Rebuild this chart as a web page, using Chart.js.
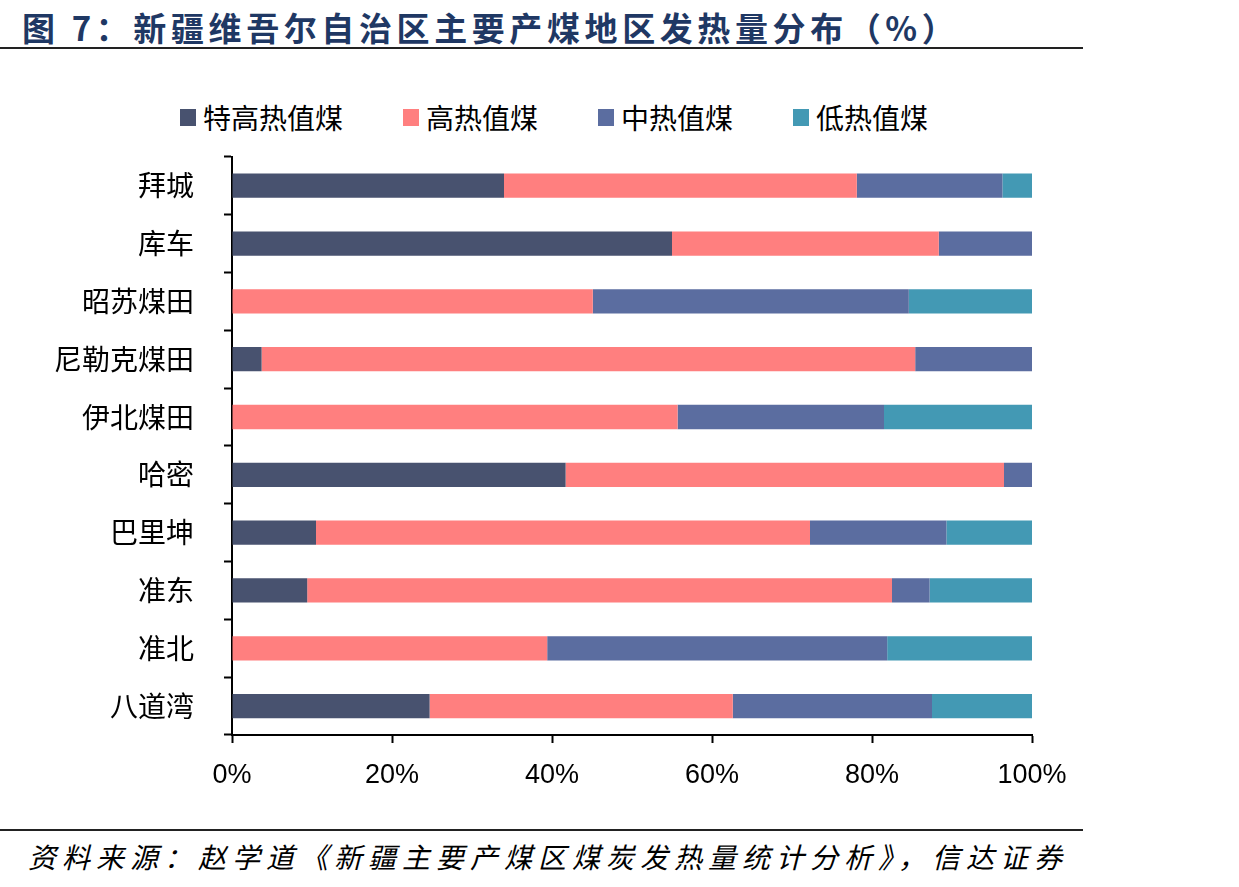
<!DOCTYPE html>
<html>
<head>
<meta charset="utf-8">
<script src="https://cdn.jsdelivr.net/npm/chart.js@4"></script>
<style>
  body { margin: 0; width: 1239px; height: 887px; overflow: hidden; background: #fff; position: relative;
         font-family: "Liberation Sans", "Noto Sans CJK SC", sans-serif; }
  #title { position: absolute; left: 22px; top: 3px; font-family: "Noto Sans CJK SC", sans-serif; font-weight: bold;
           font-size: 33px; letter-spacing: 4.6px; color: #1F3864; white-space: nowrap; }
  #topLine { position: absolute; left: 0; top: 47px; width: 1083px; height: 2px; background: #222; }
  #legend { position: absolute; left: 180px; top: 97px; display: flex; font-family: "Noto Sans CJK SC", sans-serif;
            font-size: 28px; color: #000; }
  .item { display: flex; align-items: center; margin-right: 60px; }
  .box { width: 16px; height: 17px; margin-right: 7px; }
  #wrap { position: absolute; left: 0; top: 110px; width: 1100px; height: 685px; }
  #bottomLine { position: absolute; left: 0; top: 829px; width: 1083px; height: 2px; background: #222; }
  #source { position: absolute; left: 28px; top: 834px; font-family: "Noto Sans CJK SC", sans-serif; font-size: 28px;
            font-style: italic; letter-spacing: 6px; line-height: 44px; color: #000; white-space: nowrap; }
</style>
</head>
<body>
<div id="title">图 7：新疆维吾尔自治区主要产煤地区发热量分布（%）</div>
<div id="topLine"></div>
<div id="legend"></div>
<div id="wrap"><canvas id="heatChart"></canvas></div>
<div id="bottomLine"></div>
<div id="source">资料来源：赵学道《新疆主要产煤区煤炭发热量统计分析》，信达证券<br>研发中心</div>
<script>
const regions = ['拜城', '库车', '昭苏煤田', '尼勒克煤田', '伊北煤田', '哈密', '巴里坤', '准东', '准北', '八道湾'];
const seriesNames = ['特高热值煤', '高热值煤', '中热值煤', '低热值煤'];
const seriesColors = ['#48526F', '#FF7F7F', '#5B6DA0', '#4399B4'];
const extraHigh = [34.0, 55.0, 0, 3.7, 0, 41.7, 10.5, 9.4, 0, 24.7];
const high = [44.1, 33.35, 45.1, 81.7, 55.7, 54.8, 61.75, 73.1, 39.4, 37.9];
const medium = [18.2, 11.65, 39.5, 14.6, 25.8, 3.5, 17.05, 4.7, 42.5, 24.9];
const low = [3.7, 0, 15.4, 0, 18.5, 0, 10.7, 12.8, 18.1, 12.5];
const xTicks = [0, 20, 40, 60, 80, 100];

const seriesValues = [extraHigh, high, medium, low];

// legend in html so the spacing can match the picture
const legendEl = document.getElementById('legend');
seriesNames.forEach((name, i) => {
  const item = document.createElement('div');
  item.className = 'item';
  const box = document.createElement('span');
  box.className = 'box';
  box.style.background = seriesColors[i];
  const txt = document.createElement('span');
  txt.textContent = name;
  item.appendChild(box);
  item.appendChild(txt);
  legendEl.appendChild(item);
});

const datasets = seriesNames.map((name, i) => ({
  label: name,
  data: seriesValues[i],
  backgroundColor: seriesColors[i],
  borderWidth: 0,
  barPercentage: 0.42,
  categoryPercentage: 1
}));

const ctx = document.getElementById('heatChart').getContext('2d');
new Chart(ctx, {
  type: 'bar',
  data: { labels: regions, datasets: datasets },
  options: {
    indexAxis: 'y',
    responsive: true,
    maintainAspectRatio: false,
    animation: false,
    layout: { padding: { top: 0, right: 68, left: 0, bottom: 0 } },
    plugins: {
      legend: { display: false },
      tooltip: { enabled: false }
    },
    scales: {
      x: {
        stacked: true,
        min: 0,
        max: 100,
        afterBuildTicks: scale => { scale.ticks = xTicks.map(v => ({ value: v })); },
        afterFit: scale => { scale.height = 60; },
        border: { color: '#000', width: 2 },
        grid: { drawOnChartArea: false, drawTicks: true, tickLength: 8, tickColor: '#000', tickWidth: 2 },
        ticks: {
          color: '#000',
          padding: 16,
          maxRotation: 0,
          font: { family: 'Liberation Sans', size: 27 },
          callback: v => v + '%'
        }
      },
      y: {
        stacked: true,
        afterFit: scale => { scale.width = 232; },
        border: { color: '#000', width: 2 },
        grid: { drawOnChartArea: false, drawTicks: true, tickLength: 8, tickColor: '#000', tickWidth: 2 },
        ticks: {
          color: '#000',
          padding: 30,
          font: { family: 'Noto Sans CJK SC', size: 28 }
        }
      }
    }
  }
});
</script>
</body>
</html>
